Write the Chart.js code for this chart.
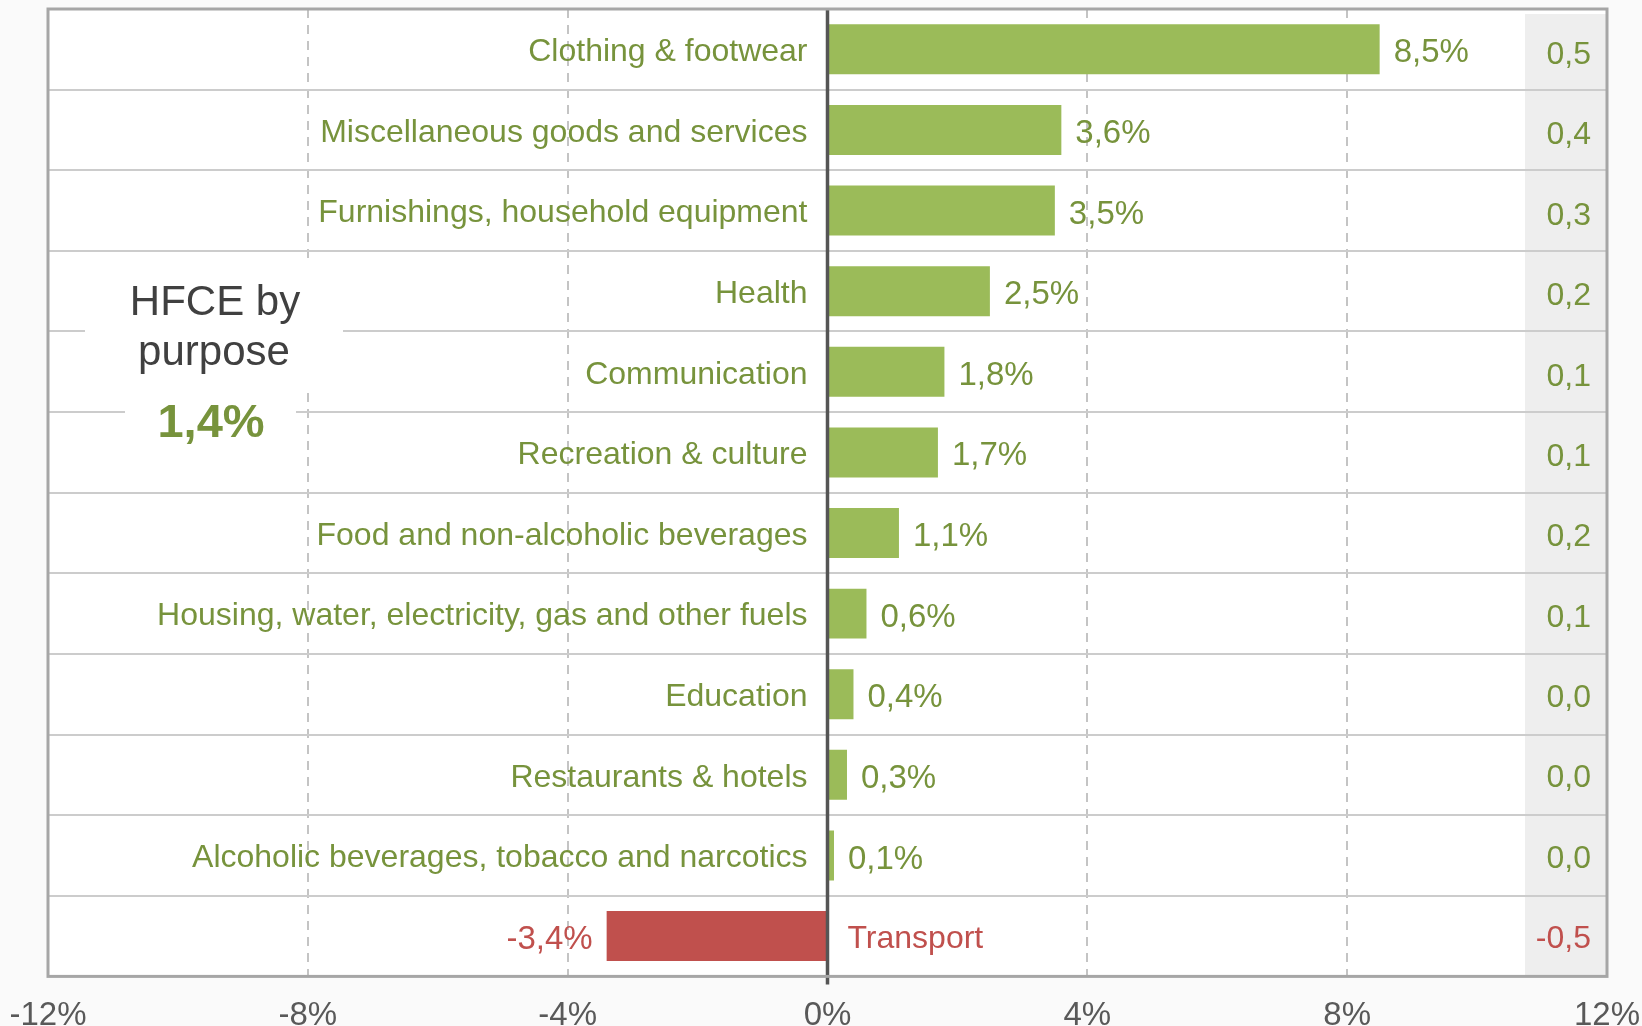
<!DOCTYPE html>
<html>
<head>
    <title>HFCE by purpose</title>
    <style>
        html, body { margin: 0; padding: 0; background: #fafafa; }
    </style>
</head>
<body>
    <canvas id="hfce" width="1642" height="1026"></canvas>

    <script src="https://cdn.jsdelivr.net/npm/chart.js@4.4.1/dist/chart.umd.min.js"></script>
    <script>
        const categories = [
            'Clothing & footwear',
            'Miscellaneous goods and services',
            'Furnishings, household equipment',
            'Health',
            'Communication',
            'Recreation & culture',
            'Food and non-alcoholic beverages',
            'Housing, water, electricity, gas and other fuels',
            'Education',
            'Restaurants & hotels',
            'Alcoholic beverages, tobacco and narcotics',
            'Transport'
        ];
        const growth = [8.5, 3.6, 3.5, 2.5, 1.8, 1.7, 1.1, 0.6, 0.4, 0.3, 0.1, -3.4];
        const contributions = [0.5, 0.4, 0.3, 0.2, 0.1, 0.1, 0.2, 0.1, 0.0, 0.0, 0.0, -0.5];
        const xTicks = [-12, -8, -4, 0, 4, 8, 12];
        const totalGrowth = 1.4;
        const titleLines = ['HFCE by', 'purpose'];

        const GREEN = '#9bbb59';
        const RED = '#c0504d';
        const GREEN_TXT = '#77933c';
        const RED_TXT = '#c0504d';
        const FONT = '"Liberation Sans", Arial, sans-serif';

        function fmt(v) {
            return v.toFixed(1).replace('.', ',');
        }

        const decor = {
            id: 'decor',
            beforeDraw(chart) {
                const ctx = chart.ctx, a = chart.chartArea;
                ctx.save();
                ctx.fillStyle = '#fafafa';
                ctx.fillRect(0, 0, chart.width, chart.height);
                ctx.fillStyle = '#ffffff';
                ctx.fillRect(a.left, a.top, a.right - a.left, a.bottom - a.top);
                // grey band behind the contributions column
                ctx.fillStyle = '#eeeeee';
                ctx.fillRect(a.right - 82, a.top + 5, 82, a.bottom - a.top - 5);
                ctx.restore();
            },
            afterDraw(chart) {
                const ctx = chart.ctx, a = chart.chartArea;
                const xs = chart.scales.x, ys = chart.scales.y;
                const x0 = xs.getPixelForValue(0);
                const n = categories.length;
                ctx.save();

                // labels next to the bars
                ctx.textBaseline = 'middle';
                categories.forEach((name, i) => {
                    const y = ys.getPixelForValue(i) + 3;
                    const v = growth[i];
                    const xe = xs.getPixelForValue(v);
                    const pct = fmt(v) + '%';
                    if (v >= 0) {
                        ctx.fillStyle = GREEN_TXT;
                        ctx.textAlign = 'right';
                        ctx.font = '32px ' + FONT;
                        ctx.fillText(name, x0 - 20, y);
                        ctx.textAlign = 'left';
                        ctx.font = '33px ' + FONT;
                        ctx.fillText(pct, xe + 14, y + 1);
                    } else {
                        ctx.fillStyle = RED_TXT;
                        ctx.textAlign = 'left';
                        ctx.font = '32px ' + FONT;
                        ctx.fillText(name, x0 + 20, y);
                        ctx.textAlign = 'right';
                        ctx.font = '33px ' + FONT;
                        ctx.fillText(pct, xe - 14, y + 1);
                    }
                    // contributions column (its rows sit a little lower at the top)
                    ctx.font = '32px ' + FONT;
                    ctx.textAlign = 'right';
                    ctx.fillStyle = contributions[i] < 0 ? RED_TXT : GREEN_TXT;
                    ctx.fillText(fmt(contributions[i]), a.right - 16, y + 3 - 3 * i / (n - 1));
                });

                // HFCE title box
                const cx = a.left + 164;
                ctx.fillStyle = '#ffffff';
                ctx.fillRect(a.left + 37, 262, 258, 128);
                ctx.fillRect(a.left + 77, 390, 171, 62);
                ctx.textAlign = 'center';
                ctx.textBaseline = 'alphabetic';
                ctx.fillStyle = '#404040';
                ctx.font = '42px ' + FONT;
                ctx.fillText(titleLines[0], cx + 3, 315);
                ctx.fillText(titleLines[1], cx + 2, 365);
                ctx.fillStyle = GREEN_TXT;
                ctx.font = 'bold 47px ' + FONT;
                ctx.fillText(fmt(totalGrowth) + '%', cx - 1, 437);

                // zero line
                ctx.strokeStyle = '#555555';
                ctx.lineWidth = 3.5;
                ctx.beginPath();
                ctx.moveTo(x0, a.top);
                ctx.lineTo(x0, a.bottom + 8);
                ctx.stroke();

                // plot frame
                ctx.strokeStyle = '#a6a6a6';
                ctx.lineWidth = 3;
                ctx.strokeRect(a.left, a.top, a.right - a.left, a.bottom - a.top);
                ctx.restore();
            }
        };

        const context = document.getElementById('hfce').getContext('2d');

        const chart = new Chart(context, {
            type: 'bar',
            data: {
                labels: categories,
                datasets: [{
                    data: growth,
                    backgroundColor: growth.map(v => v < 0 ? RED : GREEN),
                    barPercentage: 0.62,
                    categoryPercentage: 1.0
                }]
            },
            options: {
                indexAxis: 'y',
                responsive: false,
                animation: false,
                layout: { padding: { left: 48, right: 35, top: 9, bottom: -30 } },
                plugins: {
                    legend: { display: false },
                    tooltip: { enabled: false }
                },
                scales: {
                    x: {
                        min: -12,
                        max: 12,
                        afterBuildTicks: (scale) => {
                            scale.ticks = xTicks.map(v => ({ value: v }));
                        },
                        // let the end labels overhang the frame like the original
                        afterFit: (scale) => {
                            scale.paddingLeft = 0;
                            scale.paddingRight = 0;
                        },
                        ticks: {
                            callback: (v) => v + '%',
                            color: '#595959',
                            font: { family: FONT, size: 33 },
                            padding: 20,
                            maxRotation: 0
                        },
                        grid: {
                            drawTicks: false,
                            lineWidth: 2,
                            borderDash: [9, 7],
                            color: (c) => (c.tick && Math.abs(c.tick.value) % 12 !== 0) ? '#c4c4c4' : 'rgba(0,0,0,0)'
                        },
                        border: { display: false, dash: [9, 7] }
                    },
                    y: {
                        ticks: { display: false },
                        grid: {
                            offset: true,
                            drawTicks: false,
                            color: '#cccccc',
                            lineWidth: 2
                        },
                        border: { display: false }
                    }
                }
            },
            plugins: [decor]
        });
    </script>
</body>
</html>
